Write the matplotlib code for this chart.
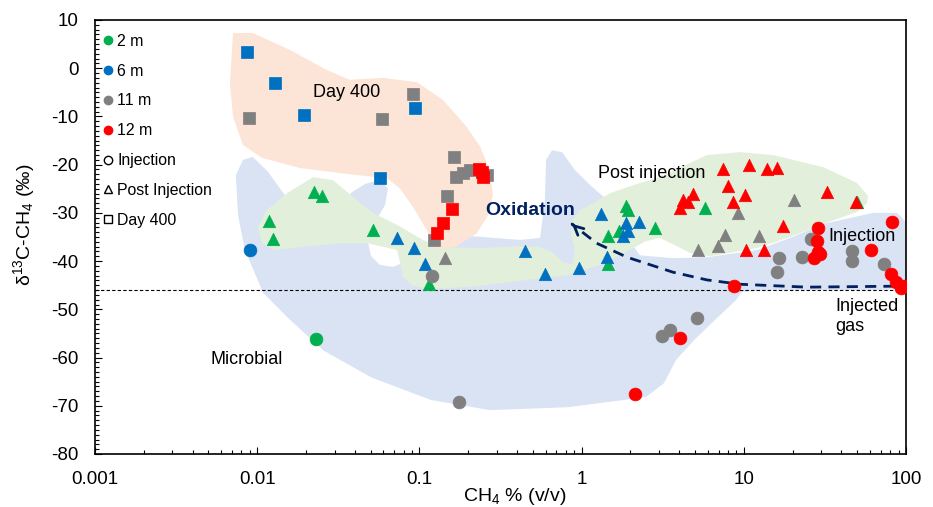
import numpy as np
import matplotlib
matplotlib.use('Agg')
import matplotlib.pyplot as plt
from matplotlib.lines import Line2D
from matplotlib.ticker import MultipleLocator, LogLocator, FuncFormatter, NullFormatter

plt.rcParams['font.family'] = ['Liberation Sans', 'DejaVu Sans']
plt.rcParams['mathtext.fontset'] = 'custom'
plt.rcParams['mathtext.rm'] = 'Liberation Sans'
plt.rcParams['mathtext.it'] = 'Liberation Sans:italic'
plt.rcParams['mathtext.bf'] = 'Liberation Sans:bold'
plt.rcParams['mathtext.default'] = 'regular'
plt.rcParams['axes.unicode_minus'] = False

# ---- data: (CH4 %, d13C) ----
# Injection (circles)
inj_2m = [(0.0231, -56.1)]
inj_6m = [(0.00904, -37.6)]
inj_11m = [(0.120, -43.0), (0.175, -69.2), (3.13, -55.5), (3.51, -54.2), (5.15, -51.7),
           (16.5, -39.3), (16.0, -42.2), (22.9, -39.1), (26.0, -35.5), (46.5, -37.8),
           (46.5, -39.9), (73.2, -40.5)]
inj_12m = [(2.13, -67.5), (4.04, -55.9), (8.7, -45.1), (28.7, -33.2), (28.1, -35.9),
           (28.7, -38.2), (26.9, -39.3), (29.7, -38.5), (82.0, -31.8), (60.8, -37.6),
           (80.5, -42.6), (86.7, -44.3), (92.6, -45.5), (97.0, -45.2)]

# Post injection (triangles)
post_2m = [(0.0224, -25.6), (0.0251, -26.6), (0.0118, -31.6), (0.0125, -35.5), (0.0518, -33.5),
           (0.1146, -44.7), (1.88, -28.5), (1.94, -29.5), (1.46, -34.7), (1.70, -33.7),
           (2.84, -33.2), (5.77, -28.9), (1.46, -40.5), (49.9, -27.8)]
post_6m = [(0.0727, -35.3), (0.0927, -37.2), (0.108, -40.5), (0.448, -38.0), (0.595, -42.6),
           (0.964, -41.4), (1.32, -30.3), (1.88, -32.2), (2.26, -31.8), (1.80, -34.7),
           (1.94, -33.7), (1.44, -39.1)]
post_11m = [(0.144, -39.3), (5.22, -37.6), (6.94, -36.8), (7.66, -34.5), (9.21, -30.1),
            (12.4, -34.7), (20.4, -27.4)]
post_12m = [(7.45, -21.0), (10.8, -20.1), (13.9, -21.0), (16.0, -20.6), (8.0, -24.5),
            (4.86, -26.0), (4.22, -27.4), (4.5, -27.8), (4.04, -28.9), (8.58, -27.8),
            (10.2, -26.2), (32.6, -25.6), (49.2, -27.8), (17.5, -32.8), (10.3, -37.6),
            (13.3, -37.6)]

# Day 400 (squares)
d400_6m = [(0.00865, 3.35), (0.0129, -3.1), (0.0195, -9.75), (0.094, -8.3), (0.0572, -22.8)]
d400_11m = [(0.0089, -10.4), (0.0588, -10.6), (0.0914, -5.4), (0.163, -18.5), (0.167, -22.6),
            (0.186, -21.8), (0.205, -21.2), (0.261, -22.2), (0.148, -26.6), (0.123, -35.7)]
d400_12m = [(0.233, -20.8), (0.248, -22.6), (0.244, -21.6), (0.159, -29.1), (0.140, -32.2),
            (0.1285, -34.2)]

# shaded fields (outlines)
day400_field = [(0.0071, 7.3), (0.0094, 7.3), (0.0159, 3.8), (0.0269, -0.4), (0.0373, -2.4),
                (0.0597, -2.0), (0.0966, -2.9), (0.140, -6.6), (0.196, -12.2), (0.237, -16.3),
                (0.272, -21.1), (0.284, -26.3), (0.265, -30.5), (0.226, -34.2), (0.166, -37.1),
                (0.125, -37.7), (0.111, -33.6), (0.0915, -28.8), (0.0758, -24.9), (0.0631, -22.8),
                (0.0373, -22.0), (0.0184, -20.7), (0.0107, -18.6), (0.00817, -15.9),
                (0.0071, -10.1), (0.00679, -3.1)]
microbial_field = [(0.00739, -22.2), (0.00817, -19.0), (0.0094, -18.4), (0.01167, -21.5),
                   (0.0148, -26.3), (0.0184, -28.4), (0.0324, -28.4), (0.0384, -25.7),
                   (0.0462, -24.0), (0.0571, -23.2), (0.0640, -24.9), (0.0614, -28.4),
                   (0.0532, -31.9), (0.0482, -36.1), (0.0504, -39.0), (0.0571, -40.8),
                   (0.0687, -41.2), (0.0815, -40.2), (0.108, -37.7), (0.144, -36.1),
                   (0.205, -34.8), (0.417, -35.6), (0.555, -35.2), (0.594, -27.3),
                   (0.604, -19.0), (0.658, -17.0), (0.757, -17.4), (0.910, -21.1),
                   (1.127, -24.2), (1.435, -27.3), (1.853, -34.6), (2.29, -38.8),
                   (3.66, -39.4), (5.93, -39.2), (12.05, -37.7), (19.3, -35.2), (30.8, -32.3),
                   (62.6, -30.0), (88.1, -30.0), (100, -31.9), (100, -45.8), (62.6, -46.0),
                   (15.1, -46.0), (9.75, -46.4), (8.95, -48.1), (6.93, -51.6), (4.93, -56.4),
                   (3.82, -60.5), (3.22, -65.3), (2.49, -68.2), (0.824, -70.3), (0.272, -70.9),
                   (0.118, -68.8), (0.0504, -64.1), (0.0255, -58.5), (0.0153, -51.6),
                   (0.0109, -46.6), (0.0084, -37.7), (0.00762, -30.5)]
post_field = [(0.0101, -32.9), (0.01148, -29.4), (0.0153, -25.9), (0.0221, -22.6), (0.0293, -23.2),
              (0.0390, -26.7), (0.0518, -30.0), (0.0728, -32.5), (0.105, -35.6), (0.134, -37.1),
              (0.237, -37.3), (0.417, -36.9), (0.555, -37.1), (0.658, -38.1), (0.767, -40.2),
              (0.873, -40.6), (0.910, -37.7), (0.861, -34.6), (0.873, -31.5), (0.977, -29.4),
              (1.175, -28.0), (1.50, -25.9), (2.29, -23.8), (3.04, -22.6), (5.93, -18.0),
              (9.48, -17.4), (15.1, -18.0), (30.8, -20.5), (49.9, -23.8), (58.3, -26.5),
              (57.5, -28.0), (49.9, -29.8), (30.8, -32.3), (19.3, -35.0), (12.05, -37.3),
              (6.19, -39.0), (4.66, -38.3), (3.77, -36.7), (3.04, -35.2), (2.46, -35.9),
              (1.853, -38.3), (1.30, -40.8), (0.824, -42.9), (0.417, -44.1), (0.230, -45.2),
              (0.118, -45.8), (0.0915, -45.2), (0.0793, -43.3), (0.0758, -40.2),
              (0.0728, -37.7), (0.0482, -36.3), (0.0324, -36.3), (0.0184, -37.1),
              (0.0125, -37.7), (0.0107, -36.3)]

# oxidation path (from injected gas towards the upper left)
oxidation_path = [(85.0, -45.2), (24.5, -45.4), (9.48, -44.8), (5.93, -43.9), (3.66, -42.3),
                  (1.91, -39.2), (1.24, -36.3), (0.87, -32.3)]
injected_gas_d13c = -46

depth_labels = ['2 m', '6 m', '11 m', '12 m']
phase_labels = ['Injection', 'Post Injection', 'Day 400']
colors = {'2 m': '#00b050', '6 m': '#0070c0', '11 m': '#808080', '12 m': '#ff0000'}

fig = plt.figure(figsize=(9.33, 5.07), dpi=100)
ax = fig.add_axes([95 / 933, 1 - 454 / 507, 811 / 933, 434 / 507])
ax.set_xscale('log')
ax.set_xlim(0.001, 100)
ax.set_ylim(-80, 10)

# fields
for field, fc in [(microbial_field, '#dae3f3'), (post_field, '#e2efda'), (day400_field, '#fce4d6')]:
    fx, fy = zip(*field)
    ax.fill(fx, fy, color=fc, lw=0, zorder=0)

ax.axhline(injected_gas_d13c, color='black', lw=0.8, dashes=(3, 2), zorder=1)

# oxidation arrow
ox, oy = zip(*oxidation_path)
ax.plot(ox, oy, color='#002060', lw=2, dashes=(4, 2.6), zorder=2)
ax.annotate('', xy=(0.847, -31.9), xytext=(0.9, -32.7),
            arrowprops=dict(arrowstyle='->', color='#002060', lw=2, mutation_scale=16), zorder=2)

series = [
    ('^', 80, [post_2m, post_6m, post_11m, post_12m]),
    ('o', 85, [inj_2m, inj_6m, inj_11m, inj_12m]),
    ('s', 78, [[], d400_6m, d400_11m, d400_12m]),
]
for marker, size, groups in series:
    for dep, pts in zip(depth_labels, groups):
        if not pts:
            continue
        px, py = zip(*pts)
        ax.scatter(px, py, marker=marker, s=size, color=colors[dep],
                   edgecolors=colors[dep], linewidths=0.5, zorder=3)

# labels in plot
ax.text(0.0355, -5.0, 'Day 400', fontsize=13, ha='center', va='center')
ax.text(1.26, -21.8, 'Post injection', fontsize=13, ha='left', va='center')
ax.text(0.254, -29.5, 'Oxidation', fontsize=14, fontweight='bold', color='#002060',
        ha='left', va='center')
ax.text(33.0, -34.9, 'Injection', fontsize=13, ha='left', va='center')
ax.text(36.5, -51.5, 'Injected\ngas', fontsize=13, ha='left', va='center', linespacing=1.25)
ax.text(0.00512, -60.3, 'Microbial', fontsize=13, ha='left', va='center')

# legend
handles = [Line2D([], [], marker='o', ls='None', ms=6, mfc=colors[d], mec=colors[d]) for d in depth_labels]
handles += [Line2D([], [], marker=m, ls='None', ms=6, mfc='none', mec='black', mew=1)
            for m in ['o', '^', 's']]
ax.legend(handles, depth_labels + phase_labels, loc='upper left', bbox_to_anchor=(0, 0.979),
          frameon=False, fontsize=11.4, handlelength=1.0, handletextpad=0.1,
          borderaxespad=0, borderpad=0.3, labelspacing=0.935)

# axes
ax.yaxis.set_major_locator(MultipleLocator(10))
ax.yaxis.set_minor_locator(MultipleLocator(1))
ax.xaxis.set_major_locator(LogLocator(base=10))
ax.xaxis.set_minor_locator(LogLocator(base=10, subs=np.arange(2, 10)))
ax.xaxis.set_minor_formatter(NullFormatter())
ax.xaxis.set_major_formatter(FuncFormatter(lambda v, p: '%g' % v))
ax.yaxis.set_major_formatter(FuncFormatter(lambda v, p: '%g' % v))
ax.tick_params(which='both', direction='in', top=False, right=False, labelsize=13.5, width=0.8)
ax.tick_params(axis='y', which='major', length=5, pad=12)
ax.tick_params(axis='x', which='major', length=5, pad=12)
ax.tick_params(which='minor', length=3)
for sp in ax.spines.values():
    sp.set_linewidth(1.2)

ax.set_xlabel(r'CH$_4$ % (v/v)', fontsize=14)
ax.set_ylabel(r'δ$^{13}$C-CH$_4$ (‰)', fontsize=14)
ax.xaxis.set_label_coords(0.518, -0.074)
ax.yaxis.set_label_coords(-0.072, 0.528)

fig.savefig('out.png', dpi=100)
